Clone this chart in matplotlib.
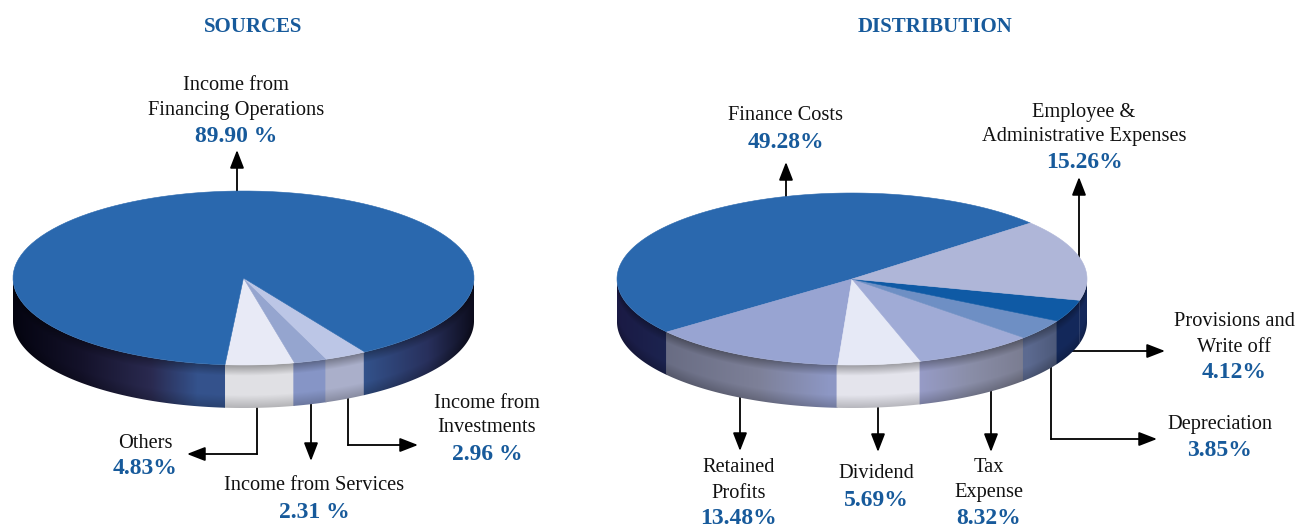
import matplotlib
matplotlib.use('Agg')
import matplotlib.pyplot as plt
import numpy as np
from matplotlib.colors import to_rgb
from matplotlib.patches import Polygon

plt.rcParams['font.family'] = ['Liberation Serif', 'DejaVu Serif']

# Dados
sources_names = ['Others', 'Income from Services', 'Income from\nInvestments',
                 'Income from\nFinancing Operations']
sources_values = [4.83, 2.31, 2.96, 89.90]
sources_text = ['4.83%', '2.31 %', '2.96 %', '89.90 %']

dist_names = ['Finance Costs', 'Retained\nProfits', 'Dividend', 'Tax\nExpense', 'Depreciation',
              'Provisions and\nWrite off', 'Employee &\nAdministrative Expenses']
dist_values = [49.28, 13.48, 5.69, 8.32, 3.85, 4.12, 15.26]
dist_text = ['49.28%', '13.48%', '5.69%', '8.32%', '3.85%', '4.12%', '15.26%']

# Cores do topo
sources_top = ['#e8eaf6', '#95a5cf', '#bcc6e6', '#2a68ae']
dist_top = ['#2a68ae', '#98a4d2', '#e6e9f6', '#a0abd6', '#6e8fc4', '#0f5aa5', '#afb6d8']

# Cores da lateral: (posição horizontal no disco, cor)
sources_rim = [
    [(-1, '#e0e0e4'), (1, '#e0e0e4')],
    [(-1, '#8695c6'), (1, '#8695c6')],
    [(-1, '#aaafca'), (1, '#aaafca')],
    [(-1, '#040410'), (-0.7, '#14122a'), (-0.4, '#2a2a50'), (-0.2, '#34528c'),
     (0.5, '#34558f'), (0.8, '#28305c'), (1, '#0c0c1c')],
]
dist_rim = [
    [(-1, '#1a1a44'), (-0.78, '#1c2450'), (1, '#1c2450')],
    [(-1, '#5e6278'), (-0.4, '#7d8098'), (-0.1, '#8d97c4'), (1, '#8d97c4')],
    [(-1, '#e4e4ec'), (1, '#e4e4ec')],
    [(-1, '#979cc8'), (0.28, '#979cc8'), (0.5, '#8a8ea8'), (0.74, '#7a7c90'), (1, '#7a7c90')],
    [(-1, '#5c6a90'), (0.75, '#5c6a90'), (0.88, '#4c5878'), (1, '#4c5878')],
    [(-1, '#12305f'), (1, '#14285a')],
    [(-1, '#14285a'), (1, '#14285a')],
]

fig = plt.figure(figsize=(12.98, 5.30), dpi=100)
ax = fig.add_axes([0, 0, 1, 1])
ax.set_xlim(0, 1298)
ax.set_ylim(530, 0)
ax.axis('off')

BLUE = '#175a9b'


def arco(cx, cy, rx, ry, a0, a1, dy=0):
    t = np.radians(np.linspace(a0, a1, 120))
    return np.column_stack([cx + rx * np.cos(t), cy - ry * np.sin(t) + dy])


def lateral(cx, cy, rx, ry, depth, a0, a1, stops):
    # só a metade de baixo do disco aparece
    lo = max(a0, 180)
    hi = min(a1, 360)
    lo2 = max(a0 - 360, 180)
    hi2 = min(a1 - 360, 360)
    for b0, b1 in [(lo, hi), (lo2, hi2)]:
        if b1 <= b0:
            continue
        # um pouco de sobra para não aparecer emenda branca
        sup = arco(cx, cy, rx, ry, b0 - 0.3, b1)
        inf = arco(cx, cy, rx, ry, b1, b0 - 0.3, depth)
        clip = Polygon(np.vstack([sup, inf]), closed=True, transform=ax.transData)

        xs = np.arange(cx - rx - 2, cx + rx + 3)
        ys = np.arange(cy - 2, cy + ry + depth + 3)
        u = np.clip((xs + 0.5 - cx) / rx, -1, 1)
        pos = [s[0] for s in stops]
        cols = np.array([to_rgb(s[1]) for s in stops])
        linha = np.column_stack([np.interp(u, pos, cols[:, i]) for i in range(3)])

        # sombra vertical, mais escura junto das bordas
        base = cy + ry * np.sqrt(1 - u ** 2)
        v = (ys[:, None] + 0.5 - base[None, :]) / depth
        sombra = np.interp(v, [0, 0.25, 0.7, 1], [0.68, 1, 1, 0.8])
        img = linha[None, :, :] * sombra[:, :, None]
        im = ax.imshow(img, extent=[xs[0], xs[-1] + 1, ys[-1] + 1, ys[0]],
                       aspect='auto', interpolation='bilinear', zorder=2)
        im.set_clip_path(clip)


def pizza(cx, cy, rx, ry, depth, start, values, top, rim):
    angs = start + np.cumsum([0] + list(values)) * 3.6 / (sum(values) / 100)
    for i in range(len(values)):
        lateral(cx, cy, rx, ry, depth, angs[i], angs[i + 1], rim[i])
    for i in range(len(values)):
        pts = np.vstack([[cx, cy], arco(cx, cy, rx, ry, angs[i], angs[i + 1])])
        ax.fill(pts[:, 0], pts[:, 1], color=top[i], lw=0.4, zorder=3)


def seta(pts):
    pts = np.array(pts)
    ax.plot(pts[:-1, 0], pts[:-1, 1], color='black', lw=1.3, zorder=1, solid_joinstyle='miter')
    ax.annotate('', xy=pts[-1], xytext=pts[-2], zorder=1,
                arrowprops=dict(arrowstyle='-|>,head_length=0.85,head_width=0.33', color='black',
                                lw=1.3, shrinkA=0, shrinkB=0, mutation_scale=13))


def rotulo(x, y, nome, valor, dv=0):
    linhas = nome.split('\n')
    for i, ln in enumerate(linhas):
        ax.text(x, y + 2 + i * 25, ln, ha='center', va='center', fontsize=14.7, color='#111111')
    ax.text(x, y + 3 + dv + len(linhas) * 25, valor, ha='center', va='center', fontsize=17,
            fontweight='bold', color=BLUE)


pizza(243.5, 278, 230.5, 87, 43, 265.4, sources_values, sources_top, sources_rim)
pizza(852, 279, 235, 86, 43, 40.6, dist_values, dist_top, dist_rim)

ax.text(253, 27, 'SOURCES', ha='center', va='center', fontsize=15, fontweight='bold', color=BLUE)
ax.text(935, 27, 'DISTRIBUTION', ha='center', va='center', fontsize=15, fontweight='bold', color=BLUE)

# Setas
seta([(237, 195), (237, 150)])
seta([(257, 400), (257, 454), (187, 454)])
seta([(311, 400), (311, 461)])
seta([(348, 390), (348, 445), (418, 445)])
seta([(786, 200), (786, 162)])
seta([(1079, 262), (1079, 177)])
seta([(1065, 351), (1165, 351)])
seta([(1051, 360), (1051, 439), (1157, 439)])
seta([(740, 390), (740, 451)])
seta([(878, 400), (878, 452)])
seta([(991, 385), (991, 452)])

# Rótulos
rotulo(145, 441, sources_names[0], sources_text[0])
rotulo(314, 484, sources_names[1], sources_text[1])
rotulo(487, 401, sources_names[2], sources_text[2])
rotulo(236, 83, sources_names[3], sources_text[3])
rotulo(786, 114, dist_names[0], dist_text[0])
rotulo(739, 466, dist_names[1], dist_text[1], dv=-1)
rotulo(876, 472, dist_names[2], dist_text[2])
rotulo(989, 466, dist_names[3], dist_text[3], dv=-1)
rotulo(1220, 422, dist_names[4], dist_text[4])
rotulo(1234, 320, dist_names[5], dist_text[5])
rotulo(1084, 110, dist_names[6], dist_text[6])

ax.set_xlim(0, 1298)
ax.set_ylim(530, 0)
fig.savefig('out.png', dpi=100)
